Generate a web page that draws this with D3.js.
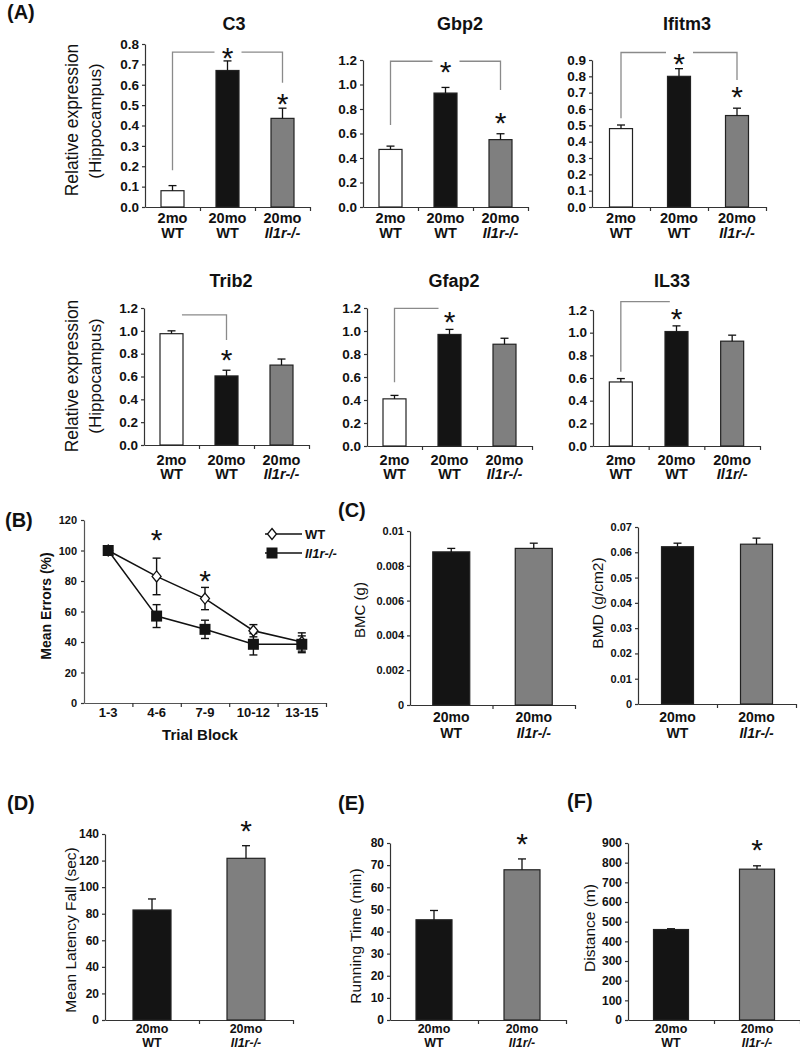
<!DOCTYPE html>
<html>
<head>
<meta charset="utf-8">
<script src="https://cdn.jsdelivr.net/npm/d3@7"></script>
<style>
body { margin: 0; background: #fff; }
</style>
</head>
<body>
<svg id="fig" width="800" height="1050"></svg>
<script>
// DATA
// (A) qPCR, hippocampus
const groupAge = ["2mo", "20mo", "20mo"];
const genes = ["C3", "Gbp2", "Ifitm3", "Trib2", "Gfap2", "IL33"];
const geneMeans = [
  [0.08, 0.67, 0.435],
  [0.47, 0.93, 0.55],
  [0.48, 0.80, 0.56],
  [0.975, 0.605, 0.70],
  [0.41, 0.97, 0.885],
  [0.565, 1.01, 0.925]
];
const geneErrors = [
  [0.025, 0.047, 0.05],
  [0.027, 0.046, 0.048],
  [0.022, 0.047, 0.045],
  [0.025, 0.05, 0.053],
  [0.03, 0.044, 0.052],
  [0.03, 0.05, 0.053]
];
const geneMax = [0.8, 1.2, 0.9, 1.2, 1.2, 1.2];
const geneTickStep = [0.1, 0.2, 0.1, 0.2, 0.2, 0.2];
const geneGenotype = [
  ["WT", "WT", "Il1r-/-"],
  ["WT", "WT", "Il1r-/-"],
  ["WT", "WT", "Il1r-/-"],
  ["WT", "WT", "Il1r-/-"],
  ["WT", "WT", "Il1r-/-"],
  ["WT", "WT", "Il1r/-"]
];
// significance brackets, in group positions and data units
const geneBrackets = [
  {from: 0, to: 2, level: 0.76, footL: 0.18, footR: 0.61, gapAt: 1},
  {from: 0, to: 2, level: 1.19, footL: 0.67, footR: 0.955, gapAt: 1},
  {from: 0, to: 2, level: 0.946, footL: 0.544, footR: 0.777, gapAt: 1},
  {from: 0.19, to: 1, level: 1.14, footL: null, footR: 0.92, gapAt: null},
  {from: 0, to: 0.8, level: 1.197, footL: 0.554, footR: null, gapAt: null},
  {from: 0, to: 0.88, level: 1.274, footL: 0.655, footR: null, gapAt: null}
];
const geneStars = [
  [[1, 0.77], [2, 0.54]],
  [[1, 1.16], [2, 0.75]],
  [[1, 0.918], [2, 0.716]],
  [[1, 0.807]],
  [[1, 1.14]],
  [[1, 1.186]]
];

// (B) water maze
const trialBlocks = ["1-3", "4-6", "7-9", "10-12", "13-15"];
const wtErrors = [100, 83, 68.5, 47.4, 40];
const wtSem = [0, 12, 7.3, 4, 6];
const koErrors = [100, 57, 48.3, 38.5, 38.5];
const koSem = [0, 7.5, 6, 7, 5.5];
const errorTicks = [0, 20, 40, 60, 80, 100, 120];
const errorStars = [["4-6", 112], ["7-9", 85]];

// (C)-(F) 20mo WT vs 20mo Il1r-/-
const oldAge = ["20mo", "20mo"];
const bmcMeans = [0.0088, 0.0090];
const bmcErrors = [0.0002, 0.0003];
const bmcTicks = [0, 0.002, 0.004, 0.006, 0.008, 0.01];
const bmdMeans = [0.0622, 0.0632];
const bmdErrors = [0.0014, 0.0024];
const bmdTicks = [0, 0.01, 0.02, 0.03, 0.04, 0.05, 0.06, 0.07];
const latencyMeans = [82.8, 121.7];
const latencyErrors = [8.3, 9.5];
const latencyTicks = [0, 20, 40, 60, 80, 100, 120, 140];
const runMeans = [45.3, 67.9];
const runErrors = [4.2, 4.9];
const runTicks = [0, 10, 20, 30, 40, 50, 60, 70, 80];
const distMeans = [460, 767];
const distErrors = [4, 17];
const distTicks = [0, 100, 200, 300, 400, 500, 600, 700, 800, 900];

// STYLE
const FONT = '"Liberation Sans", Arial, Helvetica, sans-serif';
const axisColor = '#333';
const bracketColor = '#8a8a8a';
const fill3 = ['#ffffff', '#141414', '#7f7f7f'];
const fill2 = ['#141414', '#7f7f7f'];
const STAR = 30;

const svg = d3.select('#fig').attr('font-family', FONT);

function styleAxis(sel, size) {
  sel.attr('font-family', FONT).attr('font-size', size);
  sel.select('.domain').attr('stroke', axisColor).attr('stroke-width', 1.2);
  sel.selectAll('.tick line').attr('stroke', axisColor).attr('stroke-width', 1.2);
  sel.selectAll('.tick text').attr('fill', '#111').attr('font-weight', 'bold');
}

function star(g, x, y) {
  g.append('text')
    .attr('x', x).attr('y', y + 0.58 * STAR)
    .attr('text-anchor', 'middle')
    .attr('font-size', STAR)
    .attr('fill', '#111')
    .text('*');
}

function yLabel(x, y, text, size, weight) {
  svg.append('text')
    .attr('transform', `translate(${x},${y}) rotate(-90)`)
    .attr('dy', '0.35em')
    .attr('text-anchor', 'middle')
    .attr('font-size', size)
    .attr('font-weight', weight || 'normal')
    .attr('fill', '#111')
    .text(text);
}

function panelLetter(x, y, t) {
  svg.append('text').attr('x', x).attr('y', y)
    .attr('font-size', 20).attr('font-weight', 'bold').attr('fill', '#111')
    .text(t);
}

function barPanel(o) {
  const n = o.means.length;
  const x = d3.scaleBand().domain(d3.range(n)).range([o.x0, o.x1]);
  const y = d3.scaleLinear().domain([0, o.max]).range([o.yBot, o.yTop]);
  const pos = p => o.x0 + (p + 0.5) * x.step();
  const g = svg.append('g');

  const ya = g.append('g')
    .attr('transform', `translate(${o.x0},0)`)
    .call(d3.axisLeft(y).tickValues(o.ticks).tickFormat(o.fmt)
      .tickSizeInner(3).tickSizeOuter(0).tickPadding(3));
  styleAxis(ya, o.tickFont);

  const border = d3.scaleLinear().domain([0, n]).range([o.x0, o.x1]);
  const xa = g.append('g')
    .attr('transform', `translate(0,${o.yBot})`)
    .call(d3.axisBottom(border).tickValues(d3.range(1, n + 1)).tickFormat('')
      .tickSizeInner(4).tickSizeOuter(0));
  styleAxis(xa, 10);

  g.selectAll('rect.bar').data(o.means).join('rect')
    .attr('class', 'bar')
    .attr('x', (d, i) => x(i) + (x.bandwidth() - o.barW) / 2)
    .attr('y', d => y(d))
    .attr('width', o.barW)
    .attr('height', d => o.yBot - y(d))
    .attr('fill', (d, i) => o.fills[i])
    .attr('stroke', '#222')
    .attr('stroke-width', 1.2);

  o.means.forEach((d, i) => {
    const cx = pos(i), yt = y(d + o.errs[i]);
    g.append('line').attr('x1', cx).attr('x2', cx).attr('y1', y(d)).attr('y2', yt)
      .attr('stroke', '#111').attr('stroke-width', 1.3);
    g.append('line').attr('x1', cx - 4).attr('x2', cx + 4).attr('y1', yt).attr('y2', yt)
      .attr('stroke', '#111').attr('stroke-width', 1.3);
  });

  g.selectAll('text.l1').data(o.line1).join('text')
    .attr('class', 'l1')
    .attr('x', (d, i) => pos(i)).attr('y', o.lab1)
    .attr('text-anchor', 'middle').attr('font-size', o.labFont)
    .attr('font-weight', 'bold').attr('fill', '#111')
    .text(d => d);
  g.selectAll('text.l2').data(o.line2).join('text')
    .attr('class', 'l2')
    .attr('x', (d, i) => pos(i)).attr('y', o.lab2)
    .attr('text-anchor', 'middle').attr('font-size', o.labFont)
    .attr('font-weight', 'bold')
    .attr('font-style', d => d === 'WT' ? 'normal' : 'italic')
    .attr('fill', '#111')
    .text(d => d);

  return {g, x, y, pos};
}

// (A)
panelLetter(7, 19, '(A)');
const geneLayout = [
  {x0: 145, x1: 310, yTop: 44, yBot: 207, tx: 234, ty: 30, lab1: 223, lab2: 238},
  {x0: 363, x1: 528, yTop: 60, yBot: 207, tx: 460, ty: 30, lab1: 223, lab2: 238},
  {x0: 592, x1: 766, yTop: 60, yBot: 207, tx: 687, ty: 30, lab1: 223, lab2: 238},
  {x0: 144, x1: 309, yTop: 308, yBot: 445, tx: 231, ty: 287, lab1: 465, lab2: 479},
  {x0: 367, x1: 532, yTop: 308, yBot: 446, tx: 454, ty: 287, lab1: 465, lab2: 479},
  {x0: 593, x1: 760, yTop: 310, yBot: 446, tx: 672, ty: 287, lab1: 465, lab2: 479}
];

genes.forEach((gene, k) => {
  const L = geneLayout[k];
  const step = geneTickStep[k];
  const ticks = d3.range(0, geneMax[k] + step / 2, step);
  const p = barPanel({
    x0: L.x0, x1: L.x1, yTop: L.yTop, yBot: L.yBot,
    max: geneMax[k], ticks: ticks, fmt: d3.format('.1f'),
    means: geneMeans[k], errs: geneErrors[k], fills: fill3,
    line1: groupAge, line2: geneGenotype[k],
    barW: 23, tickFont: 13.5, labFont: 14.5, lab1: L.lab1, lab2: L.lab2
  });
  svg.append('text').attr('x', L.tx).attr('y', L.ty)
    .attr('text-anchor', 'middle').attr('font-size', 18).attr('font-weight', 'bold')
    .attr('fill', '#111').text(gene);

  const b = geneBrackets[k];
  const xa = p.pos(b.from), xb = p.pos(b.to), yl = p.y(b.level);
  let d = b.footL != null ? `M${xa},${p.y(b.footL)}V${yl}` : `M${xa},${yl}`;
  if (b.gapAt != null) {
    const gx = p.pos(b.gapAt);
    d += `H${gx - 13}M${gx + 14},${yl}`;
  }
  d += `H${xb}`;
  if (b.footR != null) d += `V${p.y(b.footR)}`;
  p.g.append('path').attr('d', d).attr('fill', 'none')
    .attr('stroke', bracketColor).attr('stroke-width', 1.3);

  geneStars[k].forEach(s => star(p.g, p.pos(s[0]), p.y(s[1])));
});
yLabel(72, 120, 'Relative expression', 17.5);
yLabel(95, 121, '(Hippocampus)', 17);
yLabel(72, 376, 'Relative expression', 17.5);
yLabel(95, 376, '(Hippocampus)', 17);

// (B)
panelLetter(5, 527, '(B)');
(function () {
  const x0 = 84, x1 = 326, yBot = 703, yTop = 520;
  const x = d3.scaleBand().domain(trialBlocks).range([x0, x1]);
  const cx = d => x(d) + x.bandwidth() / 2;
  const y = d3.scaleLinear().domain([0, 120]).range([yBot, yTop]);
  const g = svg.append('g');

  const ya = g.append('g').attr('transform', `translate(${x0},0)`)
    .call(d3.axisLeft(y).tickValues(errorTicks).tickSizeInner(3).tickSizeOuter(0).tickPadding(4));
  styleAxis(ya, 11);
  ya.select('.domain').attr('stroke', '#555');

  const border = d3.scaleLinear().domain([0, trialBlocks.length]).range([x0, x1]);
  const xa = g.append('g').attr('transform', `translate(0,${yBot})`)
    .call(d3.axisBottom(border).tickValues(d3.range(1, trialBlocks.length + 1)).tickFormat('')
      .tickSizeInner(4).tickSizeOuter(0));
  styleAxis(xa, 10);
  xa.select('.domain').attr('stroke', '#555');

  g.selectAll('text.tb').data(trialBlocks).join('text')
    .attr('x', d => cx(d)).attr('y', 717)
    .attr('text-anchor', 'middle').attr('font-size', 13).attr('font-weight', 'bold')
    .attr('fill', '#111').text(d => d);

  const line = d3.line().x((d, i) => cx(trialBlocks[i])).y(d => y(d));
  [wtErrors, koErrors].forEach(s => {
    g.append('path').attr('d', line(s)).attr('fill', 'none')
      .attr('stroke', '#111').attr('stroke-width', 1.5);
  });

  function errBars(vals, sems) {
    vals.forEach((v, i) => {
      if (!sems[i]) return;
      const xx = cx(trialBlocks[i]), ya1 = y(v + sems[i]), ya2 = y(v - sems[i]);
      g.append('line').attr('x1', xx).attr('x2', xx).attr('y1', ya1).attr('y2', ya2)
        .attr('stroke', '#111').attr('stroke-width', 1.4);
      [ya1, ya2].forEach(yy => g.append('line')
        .attr('x1', xx - 4).attr('x2', xx + 4).attr('y1', yy).attr('y2', yy)
        .attr('stroke', '#111').attr('stroke-width', 1.4));
    });
  }
  errBars(wtErrors, wtSem);
  errBars(koErrors, koSem);

  const diamond = (xx, yy) => `M${xx},${yy - 5.5}L${xx + 4.5},${yy}L${xx},${yy + 5.5}L${xx - 4.5},${yy}Z`;
  wtErrors.forEach((v, i) => {
    g.append('path').attr('d', diamond(cx(trialBlocks[i]), y(v)))
      .attr('fill', '#fff').attr('stroke', '#111').attr('stroke-width', 1.3);
  });
  koErrors.forEach((v, i) => {
    g.append('rect').attr('x', cx(trialBlocks[i]) - 5.5).attr('y', y(v) - 5.5)
      .attr('width', 11).attr('height', 11).attr('fill', '#141414');
  });

  errorStars.forEach(s => star(g, cx(s[0]), y(s[1])));

  // legend
  g.append('line').attr('x1', 265).attr('x2', 302).attr('y1', 534).attr('y2', 534)
    .attr('stroke', '#111').attr('stroke-width', 1.5);
  g.append('path').attr('d', diamond(272, 534)).attr('fill', '#fff')
    .attr('stroke', '#111').attr('stroke-width', 1.3);
  g.append('text').attr('x', 305).attr('y', 538.5).attr('font-size', 13)
    .attr('font-weight', 'bold').attr('fill', '#111').text('WT');
  g.append('line').attr('x1', 265).attr('x2', 302).attr('y1', 553).attr('y2', 553)
    .attr('stroke', '#111').attr('stroke-width', 1.5);
  g.append('rect').attr('x', 266.5).attr('y', 547.5).attr('width', 11).attr('height', 11)
    .attr('fill', '#141414');
  g.append('text').attr('x', 305).attr('y', 557.5).attr('font-size', 13)
    .attr('font-weight', 'bold').attr('font-style', 'italic').attr('fill', '#111').text('Il1r-/-');

  yLabel(46, 606, 'Mean Errors (%)', 14, 'bold');
  svg.append('text').attr('x', 200).attr('y', 740).attr('text-anchor', 'middle')
    .attr('font-size', 15).attr('font-weight', 'bold').attr('fill', '#111').text('Trial Block');
})();

// (C)
panelLetter(338, 517, '(C)');
const shortFmt = d => d === 0 ? '0' : String(+d.toFixed(3));
barPanel({
  x0: 410, x1: 575, yTop: 531, yBot: 705, max: 0.01, ticks: bmcTicks, fmt: shortFmt,
  means: bmcMeans, errs: bmcErrors, fills: fill2,
  line1: oldAge, line2: ['WT', 'Il1r-/-'],
  barW: 37, tickFont: 11, labFont: 14, lab1: 722, lab2: 738
});
yLabel(360, 610, 'BMC (g)', 15);
barPanel({
  x0: 638, x1: 796, yTop: 527, yBot: 704, max: 0.07, ticks: bmdTicks, fmt: shortFmt,
  means: bmdMeans, errs: bmdErrors, fills: fill2,
  line1: oldAge, line2: ['WT', 'Il1r-/-'],
  barW: 32, tickFont: 11, labFont: 14, lab1: 722, lab2: 738
});
yLabel(598, 603, 'BMD (g/cm2)', 15.5);

// (D)
panelLetter(7, 810, '(D)');
const pD = barPanel({
  x0: 105, x1: 293, yTop: 834, yBot: 1020, max: 140, ticks: latencyTicks, fmt: d3.format('d'),
  means: latencyMeans, errs: latencyErrors, fills: fill2,
  line1: oldAge, line2: ['WT', 'Il1r-/-'],
  barW: 38, tickFont: 12, labFont: 12.5, lab1: 1033, lab2: 1047
});
star(pD.g, pD.pos(1), pD.y(148));
yLabel(70.5, 930, 'Mean Latency Fall (sec)', 15.5);

// (E)
panelLetter(338, 810, '(E)');
const pE = barPanel({
  x0: 390, x1: 566, yTop: 843, yBot: 1020, max: 80, ticks: runTicks, fmt: d3.format('d'),
  means: runMeans, errs: runErrors, fills: fill2,
  line1: oldAge, line2: ['WT', 'Il1r/-'],
  barW: 36, tickFont: 12, labFont: 12.5, lab1: 1033, lab2: 1047
});
star(pE.g, pE.pos(1), pE.y(82.9));
yLabel(355.5, 936, 'Running Time (min)', 15.5);

// (F)
panelLetter(567, 808, '(F)');
const pF = barPanel({
  x0: 628, x1: 800, yTop: 843, yBot: 1020, max: 900, ticks: distTicks, fmt: d3.format('d'),
  means: distMeans, errs: distErrors, fills: fill2,
  line1: oldAge, line2: ['WT', 'Il1r-/-'],
  barW: 35, tickFont: 12, labFont: 12.5, lab1: 1033, lab2: 1047
});
star(pF.g, pF.pos(1), pF.y(902));
yLabel(590, 928, 'Distance (m)', 15.5);
</script>
</body>
</html>
